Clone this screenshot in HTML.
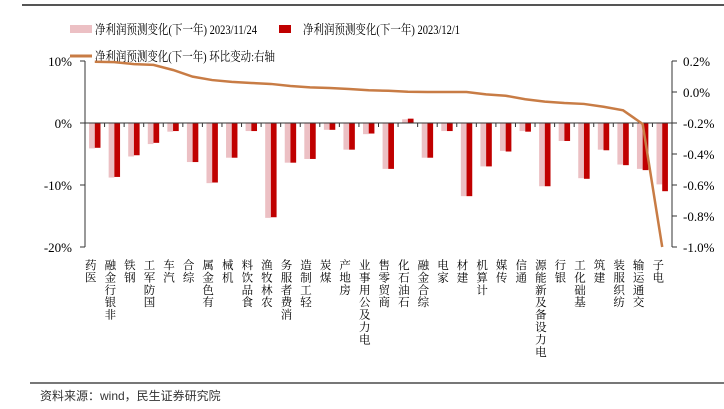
<!DOCTYPE html>
<html><head><meta charset="utf-8"><style>
body{margin:0;background:#fff;}
svg{display:block;}
.t{font-family:"Liberation Serif","Noto Serif CJK SC",serif;font-size:13px;fill:#000;}
.c{font-family:"Liberation Serif","Noto Serif CJK SC",serif;font-size:11.5px;fill:#000;}
</style></head><body>
<svg id="chart" width="724" height="409" xmlns="http://www.w3.org/2000/svg">
<line x1="22" y1="5" x2="724" y2="5" stroke="#555" stroke-width="2"/>
<g>
<rect x="70" y="25" width="22" height="8" fill="#ecc0c4"/>
<text x="95" y="34" class="t" font-size="14" textLength="162" lengthAdjust="spacingAndGlyphs">净利润预测变化(下一年) 2023/11/24</text>
<rect x="279" y="25" width="12" height="8" fill="#c00000"/>
<text x="303" y="34" class="t" font-size="14" textLength="157" lengthAdjust="spacingAndGlyphs">净利润预测变化(下一年) 2023/12/1</text>
<line x1="70" y1="56" x2="92" y2="56" stroke="#c87c45" stroke-width="3"/>
<text x="95" y="61" class="t" font-size="14" textLength="180" lengthAdjust="spacingAndGlyphs">净利润预测变化(下一年) 环比变动:右轴</text>
</g>
<g id="plot"></g>
<line x1="30" y1="383" x2="724" y2="383" stroke="#777" stroke-width="2"/>
<text x="40" y="400" style="font-family:'Liberation Sans','Noto Sans CJK SC',sans-serif;font-size:12px;fill:#333">资料来源：wind，民生证券研究院</text>
</svg>
<script>
const categories=["医药","非银行金融","钢铁","国防军工","汽车","综合","有色金属","机械","食品饮料","农林牧渔","消费者服务","轻工制造","煤炭","房地产","电力及公用事业","商贸零售","石油石化","综合金融","家电","建材","计算机","传媒","通信","电力设备及新能源","银行","基础化工","建筑","纺织服装","交通运输","电子"];
const prev=[-4.1,-8.8,-5.4,-3.4,-1.4,-6.3,-9.7,-5.6,-1.3,-15.3,-6.4,-5.8,-1.1,-4.3,-1.8,-7.4,0.6,-5.6,-1.3,-11.8,-7.0,-4.5,-1.3,-10.2,-2.9,-8.9,-4.3,-6.7,-7.4,-9.9];
const curr=[-4.0,-8.7,-5.2,-3.2,-1.3,-6.3,-9.6,-5.6,-1.3,-15.2,-6.4,-5.8,-1.1,-4.3,-1.7,-7.4,0.7,-5.6,-1.3,-11.8,-7.0,-4.6,-1.4,-10.2,-2.9,-9.0,-4.4,-6.8,-7.6,-11.0];
const change=[0.195,0.193,0.18,0.175,0.142,0.099,0.077,0.065,0.058,0.052,0.039,0.03,0.026,0.019,0.011,0.008,0.002,0,0,0,-0.015,-0.024,-0.047,-0.062,-0.071,-0.077,-0.095,-0.118,-0.206,-1.0];
const leftTicks=[10,0,-10,-20];
const rightTicks=[0.2,0,-0.2,-0.4,-0.6,-0.8,-1.0];
const NS="http://www.w3.org/2000/svg";
const g=document.getElementById('plot');
const X0=85,X1=672,n=categories.length,bw=(X1-X0)/n;
const yL=v=>123-v*6.2;
const yR=v=>92-v*155;
const cx=i=>X0+(i+0.5)*bw;
function el(t,a){const e=document.createElementNS(NS,t);for(const k in a)e.setAttribute(k,a[k]);g.appendChild(e);return e;}
let e;
e=el('line',{x1:X0,y1:yL(10),x2:X0,y2:yL(-20),stroke:'#333'});


e=el('line',{x1:X1,y1:yR(0.2),x2:X1,y2:yR(-1),stroke:'#333'});


leftTicks.forEach(v=>{
 el('line',{x1:X0-5,y1:yL(v),x2:X0,y2:yL(v),stroke:'#333'});
 e=el('text',{x:X0-13,y:yL(v)+5,'text-anchor':'end',class:'t'});e.textContent=v+'%';
 
 
});
rightTicks.forEach(v=>{
 el('line',{x1:X1,y1:yR(v),x2:X1+5,y2:yR(v),stroke:'#333'});
 e=el('text',{x:X1+11,y:yR(v)+5,class:'t'});e.textContent=v.toFixed(1)+'%';
 
 
});
const w=5.7;
categories.forEach((c,i)=>{
 const x=cx(i);
 let v=prev[i];
 e=el('rect',{x:x-w,y:Math.min(yL(0),yL(v)),width:w,height:Math.abs(yL(v)-yL(0)),fill:'#ecc0c4'});
 
 
 v=curr[i];
 e=el('rect',{x:x,y:Math.min(yL(0),yL(v)),width:w,height:Math.abs(yL(v)-yL(0)),fill:'#c00000'});
 
 
 const chars=[...c].reverse();
 chars.forEach((ch,j)=>{
  const t=el('text',{x:x-4,y:269+j*12.4,'text-anchor':'middle',class:'c'});t.textContent=ch;
 });
});
e=el('line',{x1:X0,y1:yL(0),x2:X1,y2:yL(0),stroke:'#333'});


for(let i=1;i<n;i++)el('line',{x1:X0+i*bw,y1:yL(0),x2:X0+i*bw,y2:yL(0)+4,stroke:'#333'});
e=el('polyline',{points:change.map((v,i)=>cx(i)+','+yR(v)).join(' '),fill:'none',stroke:'#c87c45','stroke-width':2.5});


[...g.querySelectorAll('text.c')].forEach(t=>{
 
 
});
</script>
</body></html>
